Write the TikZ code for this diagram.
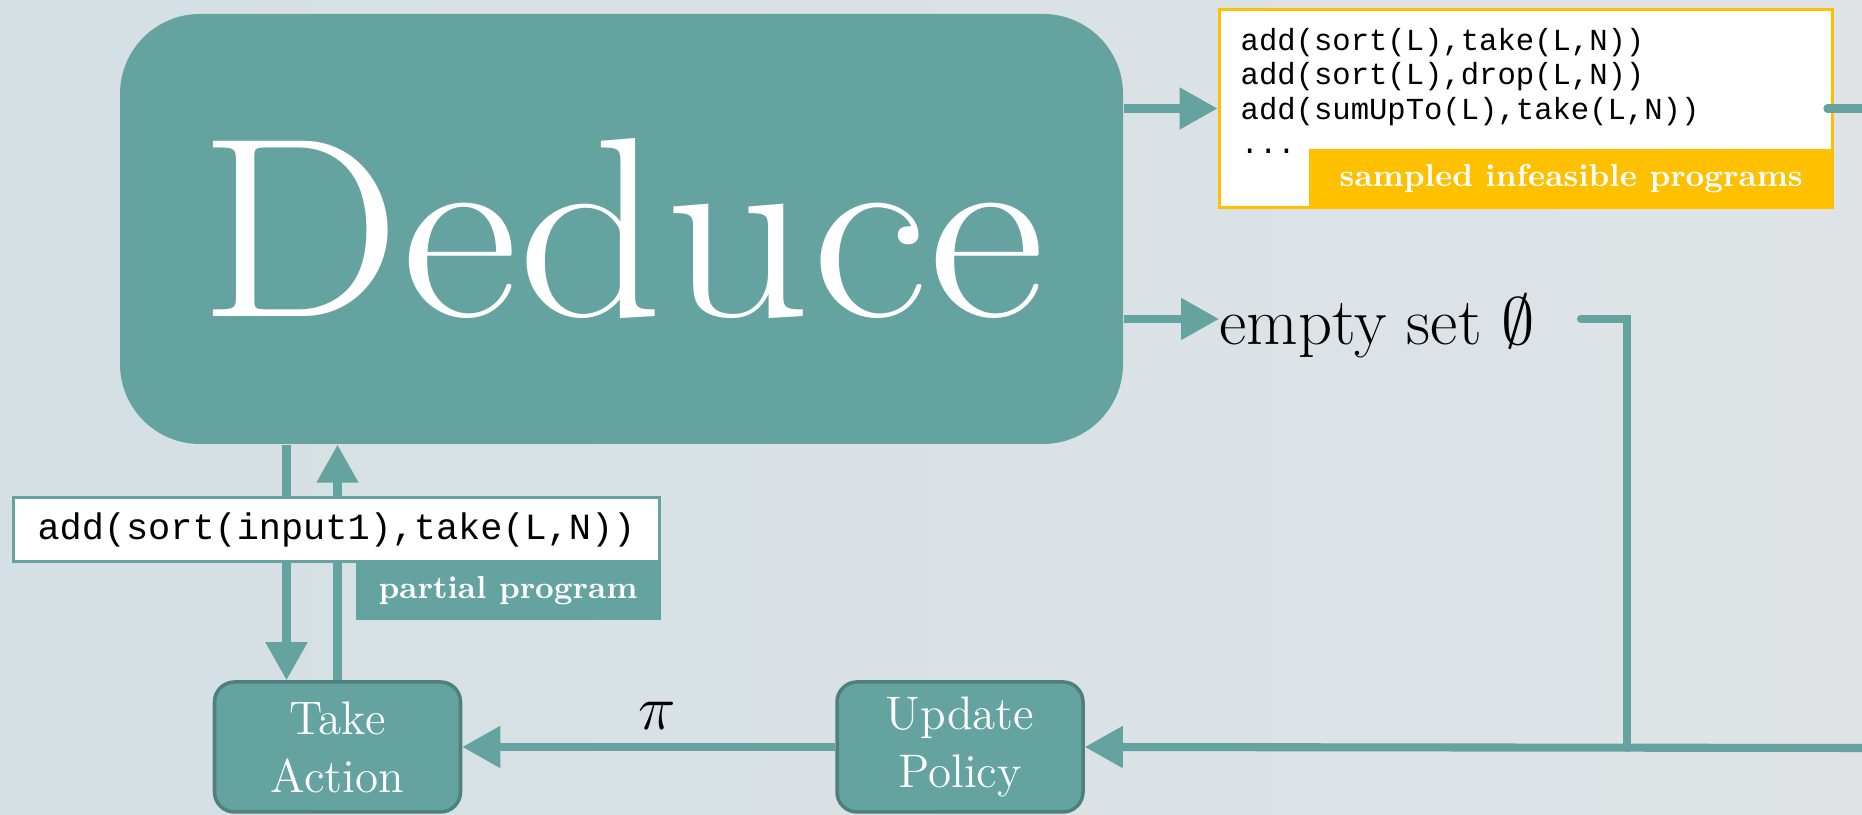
\documentclass[tikz,border=0pt]{standalone}
\usepackage{fix-cm}
\usepackage{fontspec}
\setmonofont{Liberation Mono}
\usetikzlibrary{arrows.meta,positioning}
\definecolor{tealfill}{RGB}{100,163,159}
\definecolor{tealedge}{RGB}{78,128,125}
\definecolor{gold}{RGB}{255,192,0}
\definecolor{bggray}{RGB}{223,227,230}
\definecolor{bgblue}{RGB}{212,224,228}
\tikzset{
  flow/.style={draw=tealfill, line width=2.3pt},
  arr/.style={flow, -{Triangle[length=0.38cm,width=0.40cm]}},
  stepbox/.style={draw=tealedge, fill=tealfill, line width=1pt, rounded corners=0.2cm,
    minimum width=2.46cm, minimum height=1.30cm, text=white, align=center,
    font=\fontsize{13.4}{16.5}\selectfont},
  tag/.style={text=white, inner sep=0, minimum height=0.6cm,
    font=\fontsize{9}{11}\selectfont\bfseries}
}
\begin{document}
\begin{tikzpicture}
  \shade[left color=bgblue, right color=bggray] (0,0) rectangle (18.62,8.15);
  \useasboundingbox (0,0) rectangle (18.62,8.15);
  % main block
  \node[fill=tealfill, rounded corners=0.8cm, minimum width=10.03cm, minimum height=4.3cm,
    text=white, font=\fontsize{73}{80}\selectfont] (deduce) at (6.215,5.86)
    {\raisebox{-0.05cm}{\scalebox{1.12}[1]{Deduce}}};
  % sampled programs
  \node[draw=gold, line width=1.1pt, fill=white, minimum width=6.13cm, minimum height=1.98cm,
    inner sep=0] (infeas) at (15.26,7.065) {};
  \node[anchor=north west, align=left, inner sep=0, font=\fontsize{8.7}{9.7}\selectfont\ttfamily]
    (codes) at (12.40,7.87) {add(sort(L),take(L,N))\\add(sort(L),drop(L,N))\\add(sumUpTo(L),take(L,N))\\...};
  \node[tag, fill=gold, minimum width=5.25cm, anchor=south east] (inftag) at (infeas.south east)
    {sampled infeasible programs};
  \node[anchor=west, inner sep=0, text depth=0pt, font=\fontsize{19}{23}\selectfont]
    (empty) at (12.19,4.96) {empty set $\emptyset$};
  % policy loop
  \node[stepbox] (take) at (3.375,0.68) {Take\\Action};
  \node[stepbox] (upd) at (9.60,0.68) {Update\\Policy};
  \coordinate (rtop) at (18.62,7.065);
  \coordinate (rbot) at (18.62,0.67);
  \coordinate (join) at (16.27,0.67);
  \coordinate (down) at ([xshift=-0.51cm]take.north);
  \draw[arr] (deduce.east |- infeas.west) -- (infeas.west);
  \draw[arr] (deduce.east |- empty.west) -- (empty.west);
  \draw[flow, line cap=round] ([xshift=-2pt]infeas.east) -- (rtop);
  \draw[flow, line cap=round] ([xshift=0.45cm]empty.east) -| (join);
  \draw[arr] (rbot) -- (upd.east);
  \draw[arr] (upd.west) -- node[above=0.13cm, xshift=0.08cm, inner sep=0, font=\fontsize{18}{22}\selectfont] (pi) {$\pi$} (take.east);
  \draw[arr] (down |- deduce.south) -- (down);
  \draw[arr] (take.north) -- (take.north |- deduce.south);
  % partial program
  \node[draw=tealfill, line width=1pt, fill=white, minimum width=6.46cm, minimum height=0.64cm,
    inner sep=0, font=\fontsize{10.5}{12}\selectfont\ttfamily] (prog) at (3.365,2.855)
    {add(sort(input1),take(L,N))};
  \node[tag, fill=tealfill, minimum width=3.05cm, anchor=north east] (progtag)
    at ([yshift=1pt]prog.south east) {partial program};
\end{tikzpicture}
\end{document}
